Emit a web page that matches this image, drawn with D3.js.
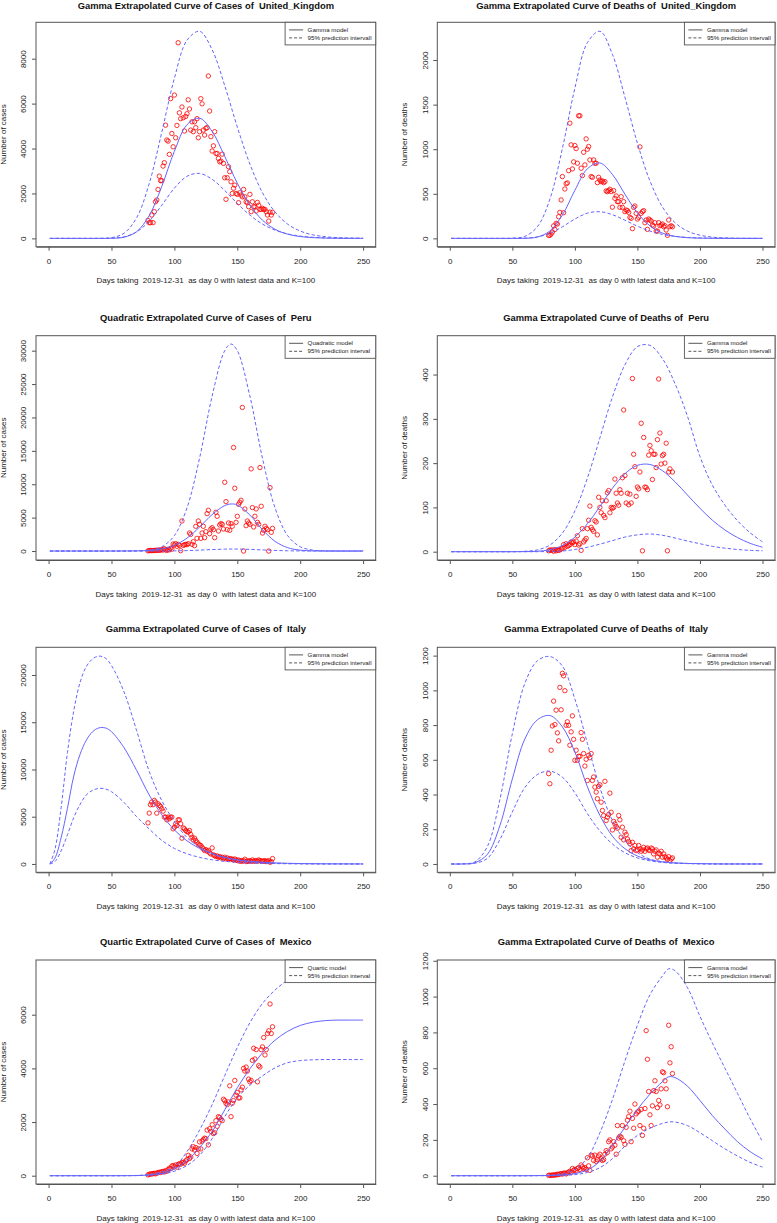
<!DOCTYPE html>
<html><head><meta charset="utf-8">
<script src="https://cdn.jsdelivr.net/npm/d3@7"></script>
<style>
body{margin:0;background:#fff;}
text{font-family:"Liberation Sans",Arial,Helvetica,sans-serif;white-space:pre;}
</style>
</head><body><script>
// ---------------- DATA ----------------
const xTicks = [0, 50, 100, 150, 200, 250];
const xDataRange = [0, 250];
const obsStartDay = 79;   // observations are daily, K=100 days

const grid10 = [1,10,20,30,40,50,60,70,80,90,100,110,120,130,140,150,160,170,180,190,200,210,220,230,240,250];
const gridPeru = [1,10,20,30,40,50,60,70,80,90,100,110,120,130,140,145,150,160,170,180,190,200,210,220,230,240,250];
const gridItaly = [1,5,10,15,20,25,30,35,40,45,50,60,70,80,90,100,110,120,130,140,150,160,170,180,190,200,210,220,230,240,250];
const gridMexD = [1,10,20,30,40,50,60,70,80,90,100,110,120,130,140,150,160,170,175,180,190,200,210,220,230,240,250];

const titles = [
  "Gamma Extrapolated Curve of Cases of  United_Kingdom",
  "Gamma Extrapolated Curve of Deaths of  United_Kingdom",
  "Quadratic Extrapolated Curve of Cases of  Peru",
  "Gamma Extrapolated Curve of Deaths of  Peru",
  "Gamma Extrapolated Curve of Cases of  Italy",
  "Gamma Extrapolated Curve of Deaths of  Italy",
  "Quartic Extrapolated Curve of Cases of  Mexico",
  "Gamma Extrapolated Curve of Deaths of  Mexico"
];
const yLabels = ["Number of cases","Number of deaths","Number of cases","Number of deaths","Number of cases","Number of deaths","Number of cases","Number of deaths"];
const xLabels = [
  "Days taking  2019-12-31  as day 0 with latest data and K=100",
  "Days taking  2019-12-31  as day 0 with latest data and K=100",
  "Days taking  2019-12-31  as day 0  with latest data and K=100",
  "Days taking  2019-12-31  as day 0 with latest data and K=100",
  "Days taking  2019-12-31  as day 0 with latest data and K=100",
  "Days taking  2019-12-31  as day 0 with latest data and K=100",
  "Days taking  2019-12-31  as day 0 with latest data and K=100",
  "Days taking  2019-12-31  as day 0 with latest data and K=100"
];
const modelLabels = ["Gamma model","Gamma model","Quadratic model","Gamma model","Gamma model","Gamma model","Quartic model","Gamma model"];
const intervalLabels = ["95% prediction intervall","95% prediction intervall","95% prediction interval","95% prediction intervall","95% prediction intervall","95% prediction intervall","95% prediction interval","95% prediction intervall"];

// y axis limits (data range before R's 4% expansion) and tick labels
const ukCasesYlim = [0, 9250],   ukCasesYTicks = [0,2000,4000,6000,8000];
const ukDeathsYlim = [0, 2330],  ukDeathsYTicks = [0,500,1000,1500,2000];
const peruCasesYlim = [-100, 31000], peruCasesYTicks = [0,5000,10000,15000,20000,25000,30000];
const peruDeathsYlim = [0, 469], peruDeathsYTicks = [0,100,200,300,400];
const italyCasesYlim = [0, 22050], italyCasesYTicks = [0,5000,10000,15000,20000];
const italyDeathsYlim = [0, 1200], italyDeathsYTicks = [0,200,400,600,800,1000,1200];
const mexCasesYlim = [0, 7730], mexCasesYTicks = [0,2000,4000,6000];
const mexDeathsYlim = [0, 1158], mexDeathsYTicks = [0,200,400,600,800,1000,1200];

// United Kingdom cases
const ukCasesFit   = [0,0,0,0,0,5,53,300,1015,2320,3880,5060,5350,4760,3650,2460,1490,810,407,188,82,33,13,5,2,1];
const ukCasesUpper = [0,0,0,0,2,32,229,920,2440,4730,7130,8820,9220,8400,6800,4960,3310,2035,1175,635,327,158,74,33,14,6];
const ukCasesLower = [0,0,0,0,0,10,72,289,766,1480,2236,2764,2891,2633,2130,1554,1038,638,368,199,102,50,23,10,4,2];
const ukCasesObs = [800,700,700,1040,700,1190,1630,1710,2180,2770,
  2570,2570,3220,3370,5040,4380,4330,3740,6220,4670,
  4080,6380,4480,5030,8710,5590,5330,5850,5370,4780,
  5430,5550,6170,5760,4820,5190,4750,5190,4930,5330,
  4480,4750,6220,5990,4820,4600,4900,4930,7230,5670,
  4530,3890,4120,4750,3780,3780,3560,3410,3440,3750,
  3340,2700,1740,2700,3190,2970,2520,2000,2230,2370,
  2000,1960,1590,2030,1930,1850,2180,1850,1630,1590,
  1410,1960,1190,1630,1410,1410,1220,1600,1480,1290,
  1290,1340,1290,1290,1190,1040,770,1170,1040,1160];

// United Kingdom deaths
const ukDeathsFit   = [0,0,0,0,0,0,1,15,83,262,539,781,846,717,496,285,141,60,23,8,3,1,0,0,0,0];
const ukDeathsUpper = [0,0,0,0,0,2,23,130,440,1007,1685,2195,2322,2064,1584,1067,645,352,177,82,36,14,6,2,1,0];
const ukDeathsLower = [0,0,0,0,0,0,3,17,57,130,217,283,299,266,204,137,83,45,23,11,5,2,1,0,0,0];
const ukDeathsObs = [34,34,49,71,140,100,169,161,243,292,
  431,693,288,554,614,622,760,1292,1049,779,
  858,1041,1007,843,1375,1375,787,704,966,824,
  1116,1000,1030,880,693,685,880,843,843,625,
  685,655,637,644,625,637,532,524,536,551,
  525,350,536,449,476,412,412,348,468,348,
  412,300,318,311,292,236,225,109,348,363,
  281,217,236,1026,281,300,311,176,206,101,
  217,206,195,150,139,176,82,82,176,142,
  150,161,131,142,94,34,206,131,142,130];

// Peru cases
const peruCasesFit   = [0,0,0,0,0,0,4,22,90,306,850,1930,3585,5460,6800,7045,6900,5390,3200,1450,500,130,26,4,0,0,0];
const peruCasesUpper = [0,0,0,0,0,0,3,23,138,640,2310,6450,13900,23200,30000,31000,30000,23200,13900,6450,2310,640,138,23,3,0,0];
const peruCasesLower = [0,0,0,0,0,0,0,0,2,8,25,65,135,220,280,300,295,245,165,90,40,15,5,1,0,0,0];
const peruCasesObs = [30,60,90,70,60,100,80,110,130,90,
  170,180,150,350,200,80,260,180,410,280,
  1050,900,1100,700,1000,850,50,4500,850,930,
  1000,950,1100,2700,2500,1000,1400,800,3700,1900,
  4500,4000,1900,2700,3700,2000,2900,5600,6100,2600,
  3300,3500,3200,2000,5800,5200,3000,3900,4100,4000,
  3300,10300,7400,3200,4200,3100,4100,3700,15500,9400,
  4300,5200,7000,7300,7600,21500,0,6300,3800,4500,
  4200,4000,12300,6500,3600,5200,6300,4300,4000,12500,
  6700,2700,3100,3700,3400,3200,0,9500,2800,3400];

// Peru deaths
const peruDeathsFit   = [0,0,0,0,0,0,0.2,1,4.5,14,33,63,102,143,176,195,197,183,158,128,98,71,49,32,19,10];
const peruDeathsUpper = [0,0,0,0,0,0,1,4,15,42,92,166,257,349,422,463,466,436,380,306,215,150,105,70,43,22];
const peruDeathsLower = [0,0,0,0,0,0,0,0,0.5,1.5,5,10,17,25,33,38,40,37,31,24,18,12,8,5,3,2];
const peruDeathsObs = [2,4,3,4,1,5,2,4,3,4,
  6,8,16,10,18,12,14,16,22,20,
  22,16,24,36,15,18,3,52,22,26,
  30,52,71,103,55,50,46,70,67,38,
  123,100,88,115,82,77,115,133,138,88,
  100,98,100,164,132,110,105,140,132,167,
  320,172,110,132,106,130,110,391,220,192,
  125,146,142,180,290,2,258,146,145,140,
  218,240,228,163,220,220,190,253,390,268,
  198,217,220,200,245,2,180,187,495,180];

// Italy cases
const italyCasesFit   = [0,600,2800,5900,9300,11600,13100,14000,14400,14400,14000,12300,9900,7300,5200,3600,2450,1650,1080,700,450,290,180,115,72,45,28,17,11,7,4];
const italyCasesUpper = [0,1500,6000,11800,16200,19200,20900,21700,22000,21800,21000,18200,14100,9800,6700,4500,2800,1800,1100,650,380,220,130,80,45,25,15,9,5,3,2];
const italyCasesLower = [0,250,1400,3100,4900,6300,7300,7800,8000,7950,7650,6500,5000,3700,2500,1650,1080,700,440,280,175,110,68,42,26,16,10,6,4,2,1];
const italyCasesObs = [4350,5380,6270,6550,6270,6730,6550,5380,6370,6200,
  6090,5840,5590,4960,4960,4670,4960,4780,4960,4960,
  3720,3890,4250,4070,4670,4670,4250,2730,3820,3720,
  3540,3430,3360,3540,3120,2830,2550,2730,2480,2300,
  2120,2020,1950,1770,1590,1420,1520,1350,1420,1170,
  1060,1700,960,885,780,850,710,780,640,710,
  570,710,530,640,500,570,530,500,425,530,
  425,355,425,280,355,280,355,500,250,320,
  280,355,280,425,280,320,355,280,425,355,
  280,320,280,355,250,280,355,180,250,570];

// Italy deaths
const italyDeathsFit   = [0,0,7,55,220,490,720,830,855,790,645,445,280,160,88,46,24,12,6,3,2,1,0,0,0,0];
const italyDeathsUpper = [0,1,12,100,370,750,1040,1170,1195,1140,950,695,440,250,135,65,28,13,6,3,1,0,0,0,0,0];
const italyDeathsLower = [0,0,4,32,140,300,440,515,535,500,410,290,190,115,65,35,18,9,4,2,1,0,0,0,0,0];
const italyDeathsObs = [520,462,655,795,938,803,886,755,709,1017,
  888,1098,1084,998,799,819,799,684,761,853,
  718,597,655,597,620,620,757,718,636,564,
  603,481,626,612,636,481,501,443,414,376,
  447,456,356,308,279,476,250,270,285,408,
  298,196,245,231,216,206,279,254,154,212,
  139,183,169,144,129,116,77,125,87,106,
  77,81,106,87,73,81,96,73,87,92,
  81,77,92,87,58,73,81,39,62,58,
  73,39,58,42,35,27,42,19,29,35];

// Mexico cases
const mexCasesFit   = [0,0,0,0,0,0,1,5,30,90,250,560,1050,1650,2450,3280,3980,4580,5050,5380,5600,5720,5780,5800,5800,5800];
const mexCasesUpper = [0,0,0,0,0,0,2,10,40,150,330,900,1700,2650,3730,4780,5700,6420,6920,7280,7500,7640,7700,7720,7720,7720];
const mexCasesLower = [0,0,0,0,0,0,1,5,20,60,170,380,760,1380,2200,2900,3370,3720,4020,4210,4290,4320,4330,4330,4330,4330];
const mexCasesObs = [30,50,70,60,80,90,70,100,110,130,
  120,150,160,140,190,170,230,280,260,360,
  380,330,400,320,420,450,430,480,500,460,
  550,600,760,640,700,1000,1080,960,1050,830,
  1000,1260,1000,1290,1350,1400,1380,1700,1150,1750,
  1650,1900,1570,1600,2050,1840,2200,2170,2100,2050,
  2850,2800,2700,2650,2750,3350,2200,2700,2800,3550,
  3000,3100,2900,2900,3200,3300,4000,3900,4050,3900,
  3600,3500,3550,4300,4750,4350,4700,3500,4100,4050,
  4700,4800,5150,4500,4700,5300,5400,6400,5300,5550];

// Mexico deaths
const mexDeathsFit   = [0,0,0,0,0,0,0,0.5,1,4,12,32,80,170,270,370,455,525,552,548,500,420,335,260,190,135,93];
const mexDeathsUpper = [0,0,0,0,0,0,0,1,3,10,35,100,240,425,640,840,1010,1115,1155,1145,1050,890,740,600,460,320,190];
const mexDeathsLower = [0,0,0,0,0,0,0,0,0.5,2,6,18,45,95,165,225,265,292,300,300,280,240,195,150,110,75,48];
const mexDeathsObs = [2,3,1,4,3,5,4,8,6,10,
  12,9,14,15,10,16,20,25,18,40,
  30,35,28,40,45,35,60,50,40,45,
  35,100,55,30,115,110,85,115,80,90,
  110,120,95,85,90,120,140,130,190,200,
  150,160,190,170,120,280,210,220,215,280,
  195,175,270,310,330,360,190,320,265,400,
  345,355,360,280,370,225,265,375,810,650,
  470,340,280,390,475,530,470,380,420,395,
  485,580,575,530,485,385,840,630,720,570];

// ---------------- PANELS ----------------
const panels = [
  {grid: grid10,   fit: ukCasesFit,      upper: ukCasesUpper,      lower: ukCasesLower,      obs: ukCasesObs,      ylim: ukCasesYlim,      yticks: ukCasesYTicks},
  {grid: grid10,   fit: ukDeathsFit,     upper: ukDeathsUpper,     lower: ukDeathsLower,     obs: ukDeathsObs,     ylim: ukDeathsYlim,     yticks: ukDeathsYTicks},
  {grid: gridPeru, fit: peruCasesFit,    upper: peruCasesUpper,    lower: peruCasesLower,    obs: peruCasesObs,    ylim: peruCasesYlim,    yticks: peruCasesYTicks},
  {grid: grid10,   fit: peruDeathsFit,   upper: peruDeathsUpper,   lower: peruDeathsLower,   obs: peruDeathsObs,   ylim: peruDeathsYlim,   yticks: peruDeathsYTicks},
  {grid: gridItaly,fit: italyCasesFit,   upper: italyCasesUpper,   lower: italyCasesLower,   obs: italyCasesObs,   ylim: italyCasesYlim,   yticks: italyCasesYTicks},
  {grid: grid10,   fit: italyDeathsFit,  upper: italyDeathsUpper,  lower: italyDeathsLower,  obs: italyDeathsObs,  ylim: italyDeathsYlim,  yticks: italyDeathsYTicks},
  {grid: grid10,   fit: mexCasesFit,     upper: mexCasesUpper,     lower: mexCasesLower,     obs: mexCasesObs,     ylim: mexCasesYlim,     yticks: mexCasesYTicks},
  {grid: gridMexD, fit: mexDeathsFit,    upper: mexDeathsUpper,    lower: mexDeathsLower,    obs: mexDeathsObs,    ylim: mexDeathsYlim,    yticks: mexDeathsYTicks}
];

// layout: plot boxes in page pixels
const layout = [
  {x0:36, x1:375.7, y0:22.3, y1:246.7},
  {x0:437.3, x1:775, y0:22.3, y1:246.7},
  {x0:36, x1:375.7, y0:335.7, y1:560},
  {x0:437.3, x1:775, y0:335.7, y1:560},
  {x0:36, x1:375.7, y0:647.3, y1:872.3},
  {x0:437.3, x1:775, y0:647.3, y1:872.3},
  {x0:36, x1:375.7, y0:960, y1:1184},
  {x0:437.3, x1:775, y0:960, y1:1184}
];

const style = {
  curve: "#6464ff", point: "#ff0000", box: "#555", text: "#1a1a1a",
  dash: "3.4,2.2", tickFont: 8, labFont: 8, titleFont: 9.4, legFont: 6.2
};

// ---------------- DRAW ----------------
const svg = d3.select("body").append("svg").attr("width", 777).attr("height", 1223);

panels.forEach((p, i) => {
  const L = layout[i];
  const g = svg.append("g");
  const xs = xDataRange[1] - xDataRange[0];
  const x = d3.scaleLinear().domain([xDataRange[0] - 0.04 * xs, xDataRange[1] + 0.04 * xs]).range([L.x0, L.x1]);
  const ys = p.ylim[1] - p.ylim[0];
  const y = d3.scaleLinear().domain([p.ylim[0] - 0.04 * ys, p.ylim[1] + 0.04 * ys]).range([L.y1, L.y0]);

  const clipId = "clip" + i;
  svg.append("clipPath").attr("id", clipId).append("rect")
    .attr("x", L.x0).attr("y", L.y0).attr("width", L.x1 - L.x0).attr("height", L.y1 - L.y0);
  const plot = g.append("g").attr("clip-path", `url(#${clipId})`);

  // observed points
  plot.selectAll("circle").data(p.obs).join("circle")
    .attr("cx", (d, j) => x(obsStartDay + j))
    .attr("cy", d => y(d))
    .attr("r", 2.2)
    .attr("fill", "none")
    .attr("stroke", style.point)
    .attr("stroke-width", 0.8);

  const line = d3.line().x(d => x(d[0])).y(d => y(d[1])).curve(d3.curveCatmullRom.alpha(0.5));
  const series = [[p.upper, true], [p.lower, true], [p.fit, false]];
  series.forEach(([vals, dashed]) => {
    plot.append("path")
      .datum(p.grid.map((d, k) => [d, vals[k]]))
      .attr("d", line)
      .attr("fill", "none")
      .attr("stroke", style.curve)
      .attr("stroke-width", 1)
      .attr("stroke-dasharray", dashed ? style.dash : null);
  });

  // axes
  const ax = g.append("g").attr("transform", `translate(0,${L.y1})`)
    .call(d3.axisBottom(x).tickValues(xTicks).tickSize(4).tickSizeOuter(0).tickPadding(7.2).tickFormat(d3.format("d")));
  ax.attr("font-size", style.tickFont).attr("font-family", null);
  ax.select(".domain").attr("stroke", style.box);
  ax.selectAll(".tick line").attr("stroke", style.box);
  ax.selectAll(".tick text").attr("fill", style.text);

  const ay = g.append("g").attr("transform", `translate(${L.x0},0)`)
    .call(d3.axisLeft(y).tickValues(p.yticks).tickSize(4).tickSizeOuter(0).tickFormat(d3.format("d")));
  ay.attr("font-size", style.tickFont).attr("font-family", null);
  ay.select(".domain").remove();
  ay.selectAll(".tick line").attr("stroke", style.box);
  ay.selectAll(".tick text")
    .attr("x", 0).attr("y", -12.6).attr("dy", "0.35em")
    .attr("text-anchor", "middle").attr("transform", "rotate(-90)")
    .attr("fill", style.text);

  // box
  g.append("rect").attr("x", L.x0).attr("y", L.y0).attr("width", L.x1 - L.x0).attr("height", L.y1 - L.y0)
    .attr("fill", "none").attr("stroke", style.box).attr("stroke-width", 1);

  // title and labels
  const cx = (L.x0 + L.x1) / 2;
  const titleBase = Math.max(9, L.y0 - 15);
  g.append("text").attr("x", cx).attr("y", titleBase)
    .attr("text-anchor", "middle").attr("font-weight", "bold").attr("font-size", style.titleFont)
    .attr("fill", "#111").text(titles[i]);
  g.append("text").attr("x", cx).attr("y", L.y1 + 33.7).attr("dy", "0.35em")
    .attr("text-anchor", "middle").attr("font-size", style.labFont).attr("fill", style.text).text(xLabels[i]);
  g.append("text")
    .attr("transform", `translate(${L.x0 - 32.7},${(L.y0 + L.y1) / 2}) rotate(-90)`)
    .attr("dy", "0.35em").attr("text-anchor", "middle").attr("font-size", style.labFont)
    .attr("fill", style.text).text(yLabels[i]);

  // legend
  const lw = 90.6, lh = 22.6, lx = L.x1 - lw, ly = L.y0;
  const leg = g.append("g");
  leg.append("rect").attr("x", lx).attr("y", ly).attr("width", lw).attr("height", lh)
    .attr("fill", "#fff").attr("stroke", style.box).attr("stroke-width", 0.9);
  [[modelLabels[i], false, 7.6], [intervalLabels[i], true, 15.6]].forEach(([lab, dashed, dy]) => {
    leg.append("line").attr("x1", lx + 4).attr("x2", lx + 18).attr("y1", ly + dy).attr("y2", ly + dy)
      .attr("stroke", "#444").attr("stroke-width", 0.9).attr("stroke-dasharray", dashed ? "3,2" : null);
    leg.append("text").attr("x", lx + 22.5).attr("y", ly + dy).attr("dy", "0.35em")
      .attr("font-size", style.legFont).attr("fill", style.text).text(lab);
  });
});
</script></body></html>
